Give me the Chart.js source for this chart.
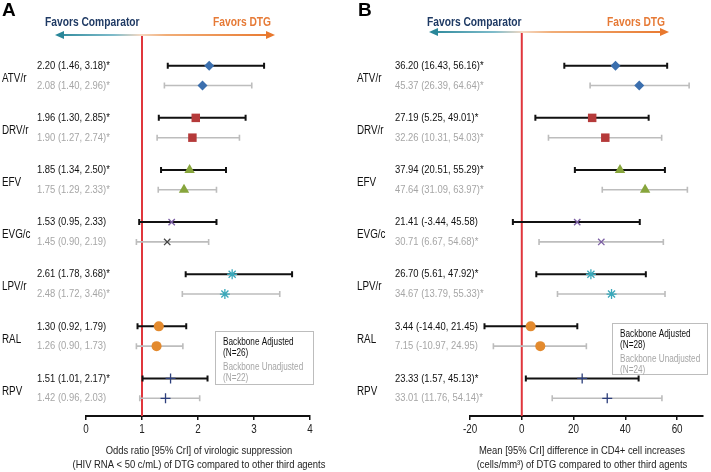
<!DOCTYPE html>
<html><head><meta charset="utf-8">
<script src="https://cdn.jsdelivr.net/npm/chart.js@4/dist/chart.umd.min.js"></script>
<style>
html,body{margin:0;padding:0;background:#fff;}
#wrap{position:relative;width:711px;height:472px;overflow:hidden;}
#c1{position:absolute;left:0;top:0;}
#c2{position:absolute;left:355px;top:0;}
</style></head>
<body><div id="wrap"><canvas id="c1" width="355" height="472"></canvas><canvas id="c2" width="356" height="472"></canvas></div>
<script>
// ---- data ----
const drugs = ['ATV/r','DRV/r','EFV','EVG/c','LPV/r','RAL','RPV'];
// Panel A: odds ratio of virologic suppression
const orAdj     = [2.20, 1.96, 1.85, 1.53, 2.61, 1.30, 1.51];
const orAdjLo   = [1.46, 1.30, 1.34, 0.95, 1.78, 0.92, 1.01];
const orAdjHi   = [3.18, 2.85, 2.50, 2.33, 3.68, 1.79, 2.17];
const orAdjSig  = [1, 1, 1, 0, 1, 0, 1];
const orUnadj   = [2.08, 1.90, 1.75, 1.45, 2.48, 1.26, 1.42];
const orUnadjLo = [1.40, 1.27, 1.29, 0.90, 1.72, 0.90, 0.96];
const orUnadjHi = [2.96, 2.74, 2.33, 2.19, 3.46, 1.73, 2.03];
const orUnadjSig= [1, 1, 1, 0, 1, 0, 0];
const orTicks   = [0, 1, 2, 3, 4];
// Panel B: mean difference in CD4+ cell increases
const cdAdj     = [36.20, 27.19, 37.94, 21.41, 26.70, 3.44, 23.33];
const cdAdjLo   = [16.43, 5.25, 20.51, -3.44, 5.61, -14.40, 1.57];
const cdAdjHi   = [56.16, 49.01, 55.29, 45.58, 47.92, 21.45, 45.13];
const cdAdjSig  = [1, 1, 1, 0, 1, 0, 1];
const cdUnadj   = [45.37, 32.26, 47.64, 30.71, 34.67, 7.15, 33.01];
const cdUnadjLo = [26.39, 10.31, 31.09, 6.67, 13.79, -10.97, 11.76];
const cdUnadjHi = [64.64, 54.03, 63.97, 54.68, 55.33, 24.95, 54.14];
const cdUnadjSig= [1, 1, 1, 1, 1, 0, 1];
const cdTicks   = [-20, 0, 20, 40, 60];

// ---- styles ----
const markerStyles = ['rectRot','rect','triangle','crossRot','star','circle','cross'];
const markerColors = ['#3b6fae','#b53a3a','#87a53c','#7b5ea3','#3aa8ba','#e38a2e','#2d3f7c'];
const markerRadius = [5, 6, 6, 4.5, 5, 5, 5];
const FAM = "'Liberation Sans',Arial,sans-serif";
const SQ = 0.82; // horizontal squeeze to mimic a narrow face
Chart.defaults.font.family = FAM;

const OFF = 0.19;
function fmt(v, lo, hi, s){ return v.toFixed(2)+' ('+lo.toFixed(2)+', '+hi.toFixed(2)+')'+(s?'*':''); }
function ntext(ctx, s, x, y, align){
  ctx.save(); ctx.translate(x, y); ctx.scale(SQ, 1);
  ctx.textAlign = align || 'left'; ctx.fillText(s, 0, 0); ctx.restore();
}

const panelPlugin = {
  id: 'panel',
  beforeDatasetsDraw(chart){
    const o = chart.options.plugins.panel;
    const {ctx, scales:{x, y}, chartArea} = chart;
    ctx.save();
    const rx = x.getPixelForValue(o.ref);
    ctx.strokeStyle = '#e0363c'; ctx.lineWidth = 2;
    ctx.beginPath(); ctx.moveTo(rx, o.arrowY); ctx.lineTo(rx, chartArea.bottom); ctx.stroke();
    o.bars.forEach(b => {
      b.lo.forEach((lo, i) => {
        const yy = y.getPixelForValue(i + b.off);
        const x1 = x.getPixelForValue(lo), x2 = x.getPixelForValue(b.hi[i]);
        ctx.strokeStyle = b.color; ctx.lineWidth = b.width;
        ctx.beginPath();
        ctx.moveTo(x1, yy); ctx.lineTo(x2, yy);
        ctx.moveTo(x1, yy - 3); ctx.lineTo(x1, yy + 3);
        ctx.moveTo(x2, yy - 3); ctx.lineTo(x2, yy + 3);
        ctx.stroke();
      });
    });
    ctx.restore();
  },
  afterDraw(chart){
    const o = chart.options.plugins.panel;
    const {ctx, scales:{x, y}, chartArea} = chart;
    ctx.save();
    ctx.textBaseline = 'alphabetic';
    // panel letter
    ctx.fillStyle = '#000'; ctx.font = "bold 19px " + FAM;
    ctx.textAlign = 'left'; ctx.fillText(o.letter, o.letterX, 16);
    // favors text
    ctx.font = "bold 12.5px " + FAM;
    ctx.fillStyle = '#1f3a64'; ntext(ctx, 'Favors Comparator', o.compX, 26);
    ctx.fillStyle = '#e67a36'; ntext(ctx, 'Favors DTG', o.dtgX, 26);
    // arrow
    const ax1 = o.arrowL, ax2 = o.arrowR, ay = o.arrowY, mid = o.arrowMid;
    const g = ctx.createLinearGradient(ax1, 0, ax2, 0);
    const m = (mid - ax1) / (ax2 - ax1);
    g.addColorStop(0, '#2a8799');
    g.addColorStop(Math.max(0, m - 0.12), '#7fbccb');
    g.addColorStop(m, '#f4d9c4');
    g.addColorStop(Math.min(1, m + 0.12), '#f1ad77');
    g.addColorStop(1, '#e8782e');
    ctx.strokeStyle = g; ctx.lineWidth = 2.2;
    ctx.beginPath(); ctx.moveTo(ax1 + 6, ay); ctx.lineTo(ax2 - 6, ay); ctx.stroke();
    ctx.fillStyle = '#2a8799';
    ctx.beginPath(); ctx.moveTo(ax1, ay); ctx.lineTo(ax1 + 9, ay - 4); ctx.lineTo(ax1 + 9, ay + 4); ctx.closePath(); ctx.fill();
    ctx.fillStyle = '#e8782e';
    ctx.beginPath(); ctx.moveTo(ax2, ay); ctx.lineTo(ax2 - 9, ay - 4); ctx.lineTo(ax2 - 9, ay + 4); ctx.closePath(); ctx.fill();
    // row labels
    ctx.textBaseline = 'middle';
    drugs.forEach((d, i) => {
      const ya = y.getPixelForValue(i - OFF), yu = y.getPixelForValue(i + OFF);
      ctx.font = "12px " + FAM; ctx.fillStyle = '#111';
      ntext(ctx, d, o.drugX, (ya + yu) / 2 + 3);
      ctx.font = "11.5px " + FAM;
      ctx.fillStyle = '#111';
      ntext(ctx, fmt(o.adj[i], o.adjLo[i], o.adjHi[i], o.adjSig[i]), o.textX, ya);
      ctx.fillStyle = '#a6a6a6';
      ntext(ctx, fmt(o.un[i], o.unLo[i], o.unHi[i], o.unSig[i]), o.textX, yu);
    });
    // tick labels and axis title
    ctx.textBaseline = 'alphabetic';
    ctx.fillStyle = '#222'; ctx.font = "12px " + FAM;
    o.ticks.forEach(v => ntext(ctx, String(v), x.getPixelForValue(v), chartArea.bottom + 17, 'center'));
    ctx.font = "11.5px " + FAM;
    ntext(ctx, o.title[0], o.titleX, chartArea.bottom + 38, 'center');
    ntext(ctx, o.title[1], o.titleX, chartArea.bottom + 51.5, 'center');
    // legend box
    const L = o.legend;
    ctx.fillStyle = '#fff'; ctx.fillRect(L.x, L.y, L.w, L.h);
    ctx.strokeStyle = '#bdbdbd'; ctx.lineWidth = 1;
    ctx.strokeRect(L.x + 0.5, L.y + 0.5, L.w, L.h);
    ctx.font = "10px " + FAM; ctx.textBaseline = 'middle';
    ctx.fillStyle = '#111';
    ntext(ctx, 'Backbone Adjusted', L.x + 8, L.y + 11);
    ntext(ctx, '(N=' + L.n1 + ')', L.x + 8, L.y + 22);
    ctx.fillStyle = '#a6a6a6';
    ntext(ctx, 'Backbone Unadjusted', L.x + 8, L.y + 36);
    ntext(ctx, '(N=' + L.n2 + ')', L.x + 8, L.y + 47);
    ctx.restore();
  }
};

function makePanel(id, P){
  const ds = (vals, off, unadj) => ({
    data: vals.map((v, i) => ({x: v, y: i + off})),
    pointStyle: markerStyles,
    pointRadius: markerRadius,
    backgroundColor: unadj ? P.unColors : markerColors,
    borderColor: unadj ? P.unColors : markerColors,
    borderWidth: markerStyles.map(s => (s === 'cross' || s === 'crossRot' || s === 'star') ? 1.3 : 0),
    showLine: false
  });
  new Chart(document.getElementById(id), {
    type: 'scatter',
    data: { datasets: [ ds(P.adj, -OFF, false), ds(P.un, OFF, true) ] },
    options: {
      responsive: false, animation: false, devicePixelRatio: 1,
      layout: { padding: { left: P.padL, right: P.padR, top: 35, bottom: 52 } },
      plugins: {
        legend: { display: false }, tooltip: { enabled: false },
        panel: P
      },
      scales: {
        y: { type: 'linear', reverse: true, min: -0.78, max: 6.53, display: false },
        x: {
          type: 'linear', min: P.min, max: P.max,
          afterBuildTicks: s => { s.ticks = P.ticks.map(v => ({value: v})); },
          ticks: { display: false },
          grid: { drawOnChartArea: false, drawTicks: true, tickLength: 4, color: '#111', lineWidth: 1.5 },
          border: { display: true, color: '#111', width: 2 },
          title: { display: false }
        }
      }
    },
    plugins: [panelPlugin]
  });
}

makePanel('c1', {
  letter: 'A', letterX: 2, compX: 45, dtgX: 213,
  arrowL: 55, arrowR: 275, arrowMid: 140, arrowY: 35,
  drugX: 2, textX: 37, ref: 1,
  adj: orAdj, adjLo: orAdjLo, adjHi: orAdjHi, adjSig: orAdjSig,
  un: orUnadj, unLo: orUnadjLo, unHi: orUnadjHi, unSig: orUnadjSig,
  unColors: ['#3b6fae','#b53a3a','#87a53c','#444444','#3aa8ba','#e38a2e','#2d3f7c'],
  bars: [
    { lo: orAdjLo, hi: orAdjHi, off: -OFF, color: '#111', width: 2 },
    { lo: orUnadjLo, hi: orUnadjHi, off: OFF, color: '#bdbdbd', width: 1.6 }
  ],
  legend: { x: 215, y: 331, w: 98, h: 53, n1: 26, n2: 22 },
  min: 0, max: 4, ticks: orTicks, padL: 86, padR: 45, titleX: 199,
  title: ['Odds ratio [95% CrI] of virologic suppression', '(HIV RNA < 50 c/mL) of DTG compared to other third agents']
});

makePanel('c2', {
  letter: 'B', letterX: 3, compX: 72, dtgX: 252,
  arrowL: 74, arrowR: 314, arrowMid: 168, arrowY: 32,
  drugX: 2, textX: 40, ref: 0,
  adj: cdAdj, adjLo: cdAdjLo, adjHi: cdAdjHi, adjSig: cdAdjSig,
  un: cdUnadj, unLo: cdUnadjLo, unHi: cdUnadjHi, unSig: cdUnadjSig,
  unColors: markerColors,
  bars: [
    { lo: cdAdjLo, hi: cdAdjHi, off: -OFF, color: '#111', width: 2 },
    { lo: cdUnadjLo, hi: cdUnadjHi, off: OFF, color: '#bdbdbd', width: 1.6 }
  ],
  legend: { x: 257, y: 323, w: 95, h: 51, n1: 28, n2: 24 },
  min: -20, max: 70, ticks: cdTicks, padL: 115, padR: 8, titleX: 227,
  title: ['Mean [95% CrI] difference in CD4+ cell increases', '(cells/mm\u00B3) of DTG compared to other third agents']
});
</script>
</body></html>
